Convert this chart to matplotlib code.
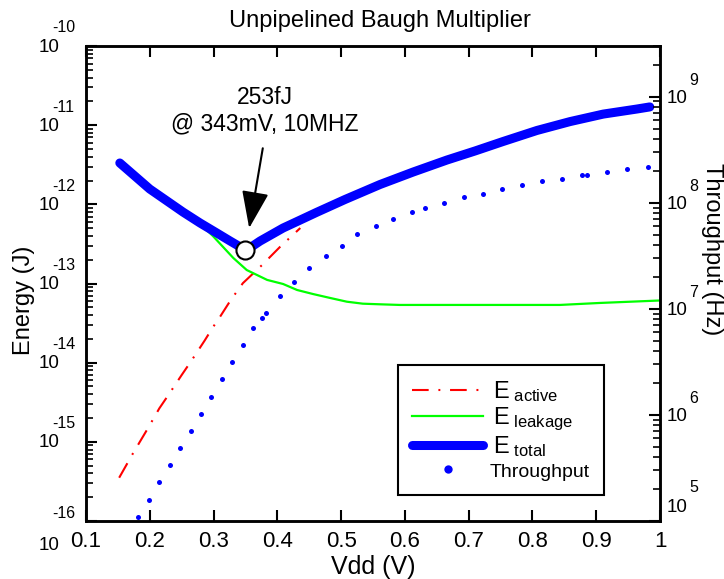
import matplotlib
matplotlib.use('Agg')
import matplotlib.pyplot as plt
import matplotlib.transforms as mtransforms
from matplotlib.lines import Line2D
from matplotlib.ticker import LogLocator, NullFormatter

plt.rcParams['font.family'] = ['Liberation Sans', 'DejaVu Sans']
plt.rcParams['mathtext.fontset'] = 'custom'
plt.rcParams['mathtext.rm'] = 'Liberation Sans'
plt.rcParams['mathtext.it'] = 'Liberation Sans:italic'
plt.rcParams['axes.unicode_minus'] = False
plt.rcParams['lines.scale_dashes'] = False

# ---------------- data ----------------
v_total = [0.153, 0.200, 0.252, 0.279, 0.305, 0.326, 0.342, 0.352, 0.373, 0.409,
           0.436, 0.461, 0.506, 0.561, 0.613, 0.666, 0.710, 0.754, 0.807, 0.859,
           0.911, 0.964, 0.984]
e_total = [3.33e-12, 1.56e-12, 8.0e-13, 5.8e-13, 4.35e-13, 3.44e-13, 2.89e-13, 2.65e-13,
           3.44e-13, 5.02e-13, 6.34e-13, 7.88e-13, 1.15e-12, 1.78e-12, 2.56e-12, 3.63e-12,
           4.72e-12, 6.22e-12, 8.57e-12, 1.11e-11, 1.38e-11, 1.60e-11, 1.70e-11]

v_active = [0.152, 0.174, 0.197, 0.215, 0.230, 0.250, 0.265, 0.286, 0.299, 0.310,
            0.327, 0.346, 0.376, 0.404, 0.436]
e_active = [3.52e-16, 7.23e-16, 1.48e-15, 2.65e-15, 3.99e-15, 6.98e-15, 1.05e-14, 1.90e-14,
            2.80e-14, 3.78e-14, 6.19e-14, 1.01e-13, 1.71e-13, 2.89e-13, 5.02e-13]

v_leak = [0.153, 0.200, 0.252, 0.279, 0.299, 0.331, 0.352, 0.384, 0.409, 0.431,
          0.456, 0.483, 0.509, 0.534, 0.561, 0.592, 0.749, 0.843, 0.906, 1.0]
e_leak = [3.24e-12, 1.52e-12, 7.78e-13, 5.65e-13, 3.98e-13, 2.10e-13, 1.48e-13, 1.11e-13,
          9.86e-14, 8.28e-14, 7.36e-14, 6.56e-14, 5.89e-14, 5.56e-14, 5.46e-14, 5.36e-14,
          5.36e-14, 5.36e-14, 5.68e-14, 6.10e-14]

v_thr = [0.182, 0.198, 0.215, 0.231, 0.247, 0.264, 0.280, 0.296, 0.313, 0.329,
         0.346, 0.362, 0.376, 0.382, 0.404, 0.426, 0.450, 0.476, 0.502, 0.525,
         0.554, 0.582, 0.611, 0.632, 0.662, 0.692, 0.723, 0.753, 0.784, 0.815,
         0.847, 0.878, 0.886, 0.917, 0.949, 0.981]
throughput = [1.09e5, 1.58e5, 2.31e5, 3.37e5, 4.90e5, 7.08e5, 1.02e6, 1.49e6, 2.17e6, 3.16e6,
              4.60e6, 6.65e6, 8.18e6, 9.20e6, 1.31e7, 1.79e7, 2.40e7, 3.12e7, 3.94e7, 5.06e7,
              6.01e7, 7.06e7, 8.15e7, 8.89e7, 1.00e8, 1.12e8, 1.22e8, 1.34e8, 1.46e8, 1.60e8,
              1.69e8, 1.83e8, 1.83e8, 1.95e8, 2.07e8, 2.19e8]

v_min = 0.350
e_min = 2.65e-13

x_ticks = [0.1, 0.2, 0.3, 0.4, 0.5, 0.6, 0.7, 0.8, 0.9, 1.0]
x_tick_labels = ['0.1', '0.2', '0.3', '0.4', '0.5', '0.6', '0.7', '0.8', '0.9', '1']
e_tick_exps = [-16, -15, -14, -13, -12, -11, -10]
thr_tick_exps = [5, 6, 7, 8, 9]

title = 'Unpipelined Baugh Multiplier'
annot_text = '253fJ\n@ 343mV, 10MHZ'

# ---------------- figure ----------------
fig = plt.figure(figsize=(7.24, 5.79), dpi=100)
ax = fig.add_axes([86 / 724, 1 - 521 / 579, 574 / 724, 475 / 579])
ax2 = ax.twinx()

blue = '#0000ff'
l_act, = ax.plot(v_active, e_active, color='#ff0000', lw=1.5,
                 linestyle=(0, (12, 7, 1.4, 7)))
l_leak, = ax.plot(v_leak, e_leak, color='#00ff00', lw=1.6)
l_tot, = ax.plot(v_total, e_total, color=blue, lw=6.5, solid_capstyle='round',
                 solid_joinstyle='round')
ax.plot([v_min], [e_min], 'o', ms=13, mfc='white', mec='black', mew=1.5, zorder=5)

l_thr, = ax2.plot(v_thr, throughput, 'o', color=blue, ms=3.6, mew=0)

# axes scales / limits
ax.set_xlim(0.1, 1.0)
ax.set_yscale('log')
ax.set_ylim(1e-16, 1e-10)
ax2.set_yscale('log')
ax2.set_ylim(1e5, 3e9)

ax.set_xticks(x_ticks)
ax.set_xticklabels(x_tick_labels, fontsize=16)
ax.tick_params(axis='x', direction='in', top=True, length=8, width=1.5, pad=7)

ax.set_yticks([10.0 ** e for e in e_tick_exps])
ax.yaxis.set_minor_locator(LogLocator(base=10, subs=range(2, 10), numticks=20))
ax.yaxis.set_major_formatter(NullFormatter())
ax.yaxis.set_minor_formatter(NullFormatter())
ax.tick_params(axis='y', which='major', direction='in', length=8, width=1.5, right=False)
ax.tick_params(axis='y', which='minor', direction='in', length=5, width=1.2, right=False)

ax2.set_yticks([10.0 ** e for e in thr_tick_exps])
ax2.yaxis.set_minor_locator(LogLocator(base=10, subs=range(2, 10), numticks=20))
ax2.yaxis.set_major_formatter(NullFormatter())
ax2.yaxis.set_minor_formatter(NullFormatter())
ax2.tick_params(axis='y', which='major', direction='in', length=8, width=1.5)
ax2.tick_params(axis='y', which='minor', direction='in', length=5, width=1.2)

for a in (ax, ax2):
    for s in a.spines.values():
        s.set_linewidth(1.8)

# custom MATLAB-style log tick labels
tl = mtransforms.blended_transform_factory(ax.transAxes, ax.transData)
for e in e_tick_exps:
    base_dy, exp_dy = (-24, 8) if e == e_tick_exps[0] else (-1, 18)
    ax.text(0, 10.0 ** e, '10', fontsize=13.5, ha='right', va='center',
            transform=mtransforms.offset_copy(tl, fig=fig, x=-26, y=base_dy, units='dots'))
    ax.text(0, 10.0 ** e, str(e), fontsize=11.5, ha='left', va='center',
            transform=mtransforms.offset_copy(tl, fig=fig, x=-34, y=exp_dy, units='dots'))

tr = mtransforms.blended_transform_factory(ax2.transAxes, ax2.transData)
for e in thr_tick_exps:
    base_dy, exp_dy = (13, 33) if e == thr_tick_exps[0] else (-2, 16)
    ax2.text(1, 10.0 ** e, '10', fontsize=13.5, ha='left', va='center',
             transform=mtransforms.offset_copy(tr, fig=fig, x=7, y=base_dy, units='dots'))
    ax2.text(1, 10.0 ** e, str(e), fontsize=11.5, ha='left', va='center',
             transform=mtransforms.offset_copy(tr, fig=fig, x=29, y=exp_dy, units='dots'))

# labels / title
fig.text(380 / 724, 1 - 21 / 579, title, fontsize=17, ha='center', va='center')
fig.text(373 / 724, 1 - 567 / 579, 'Vdd (V)', fontsize=18, ha='center', va='center')
fig.text(24 / 724, 1 - 300 / 579, 'Energy (J)', fontsize=17, ha='center', va='center',
         rotation=90)
fig.text(712 / 724, 1 - 249 / 579, 'Throughput (Hz)', fontsize=17, ha='center',
         va='center', rotation=270)

# annotation
ax.annotate(annot_text, xy=(v_min, e_min), xytext=(14, 100), textcoords='offset points',
            fontsize=16.5, ha='center', va='center', multialignment='center',
            linespacing=1.2,
            arrowprops=dict(arrowstyle='-|>,head_length=1.15,head_width=0.42',
                            mutation_scale=20, color='black', lw=1.5,
                            shrinkA=7, shrinkB=16, relpos=(0.5, 0.0)),
            zorder=6)

# legend
handles = [l_act, l_leak, l_tot,
           Line2D([], [], ls='none', marker='o', color=blue, ms=6, mew=0)]
labels = [r'$\mathregular{\,E}_{\mathregular{\ active}}$',
          r'$\mathregular{\,E}_{\mathregular{\ leakage}}$',
          r'$\mathregular{\,E}_{\mathregular{\ total}}$',
          'Throughput']
leg = ax2.legend(handles, labels, loc='lower left',
                 bbox_to_anchor=((398 - 86) / 574, (521 - 495) / 475),
                 borderaxespad=0, fontsize=17, handlelength=3.0, handletextpad=0.3,
                 labelspacing=0.05, borderpad=0.6, fancybox=False, framealpha=1,
                 edgecolor='black')
leg.get_frame().set_linewidth(1.5)
leg.get_texts()[3].set_fontsize(14)

fig.savefig('out.png', dpi=100)
